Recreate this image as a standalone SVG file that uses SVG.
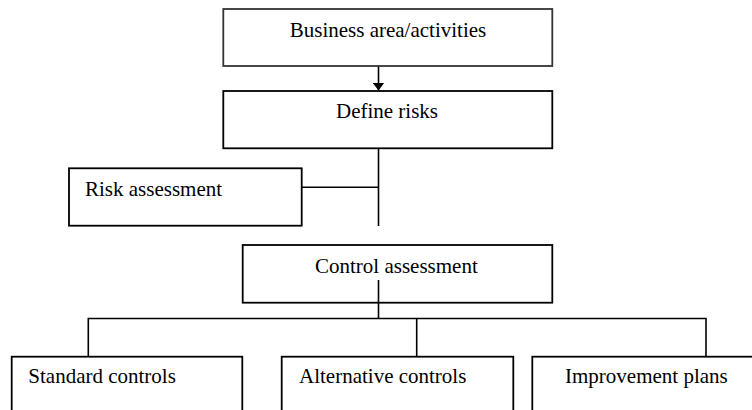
<svg xmlns="http://www.w3.org/2000/svg" width="752" height="410" viewBox="0 0 752 410">
<style>
.box{fill:#fff;stroke:#000;stroke-width:1.8}
.line{fill:none;stroke:#000;stroke-width:1.6}
.t{font-family:'Liberation Serif','DejaVu Serif',serif;font-size:21px;fill:#000}
</style>
<defs>
<marker id="arr" markerWidth="8" markerHeight="12" refX="8" refY="6" orient="auto" markerUnits="userSpaceOnUse">
<path d="M0,0 L8,6 L0,12 Z" fill="#000"/>
</marker>
</defs>
<rect width="752" height="410" fill="#fff"/>
<g id="connectors">
<line class="line" x1="378.5" y1="66" x2="378.5" y2="90.5" marker-end="url(#arr)"/>
<line class="line" x1="378.5" y1="148" x2="378.5" y2="226"/>
<line class="line" x1="302" y1="187.3" x2="378.5" y2="187.3"/>
<line class="line" x1="378.5" y1="280" x2="378.5" y2="318.5"/>
<polyline class="line" points="88.3,357 88.3,318.5 706,318.5 706,357"/>
<line class="line" x1="416.7" y1="318.5" x2="416.7" y2="357"/>
</g>
<g id="business">
<rect class="box" x="223.3" y="9" width="329" height="57" style="stroke:#333"/>
<text class="t" font-family="Liberation Serif, DejaVu Serif, serif" x="388" y="36.7" text-anchor="middle">Business area/activities</text>
</g>
<g id="define">
<rect class="box" x="223.3" y="91" width="329" height="57.3"/>
<text class="t" font-family="Liberation Serif, DejaVu Serif, serif" x="387" y="118.3" text-anchor="middle">Define risks</text>
</g>
<g id="risk">
<rect class="box" x="69" y="168.3" width="232.7" height="57.4"/>
<text class="t" font-family="Liberation Serif, DejaVu Serif, serif" x="85" y="196">Risk assessment</text>
</g>
<g id="control">
<rect class="box" x="242.7" y="245" width="309.6" height="57.7"/>
<text class="t" font-family="Liberation Serif, DejaVu Serif, serif" x="315" y="273.3">Control assessment</text>
<line class="line" x1="378.5" y1="280" x2="378.5" y2="302.7"/>
</g>
<g id="standard">
<rect class="box" x="11.7" y="356.7" width="230.6" height="70"/>
<text class="t" font-family="Liberation Serif, DejaVu Serif, serif" x="28.3" y="383.3">Standard controls</text>
</g>
<g id="alternative">
<rect class="box" x="281.7" y="356.7" width="231.6" height="70"/>
<text class="t" font-family="Liberation Serif, DejaVu Serif, serif" x="299" y="383.3">Alternative controls</text>
</g>
<g id="improvement">
<rect class="box" x="532.3" y="356.7" width="240" height="70"/>
<text class="t" font-family="Liberation Serif, DejaVu Serif, serif" x="565" y="383.3">Improvement plans</text>
</g>
</svg>
